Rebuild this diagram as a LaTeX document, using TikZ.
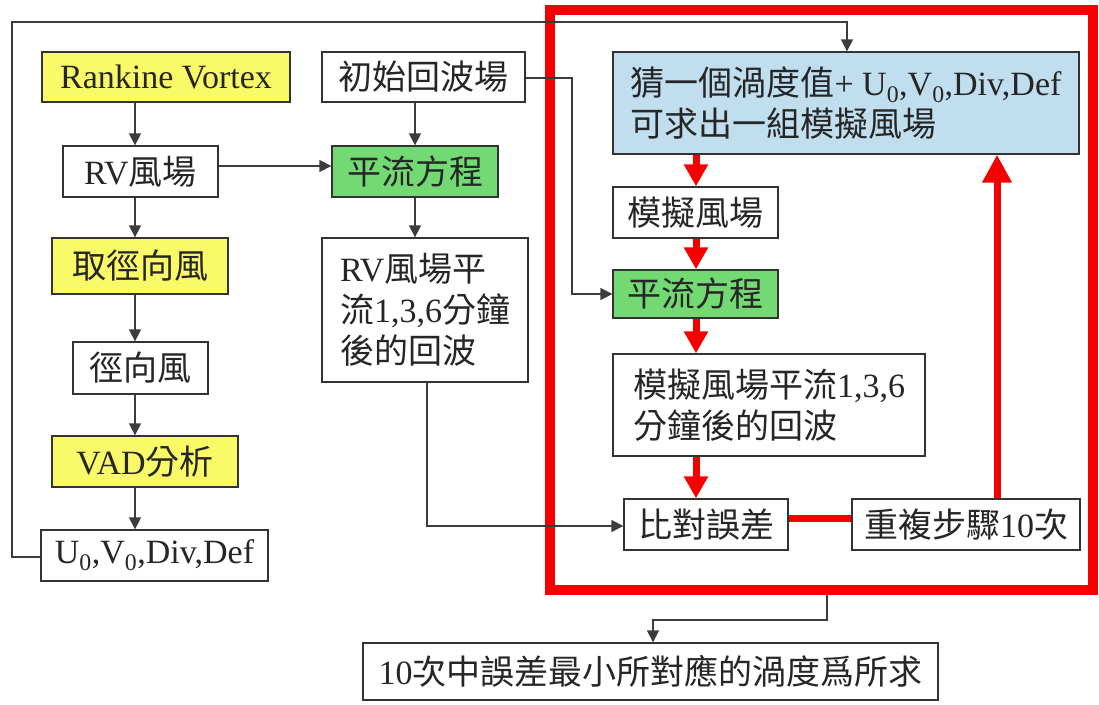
\documentclass[tikz,border=0pt]{standalone}
\usepackage{fontspec}
\setmainfont{Noto Sans CJK TC}
\newfontfamily\latf{Liberation Serif}
\newcommand{\tm}[1]{{\latf #1}}
\usetikzlibrary{arrows.meta}
\definecolor{boxyellow}{RGB}{250,250,105}
\definecolor{boxgreen}{RGB}{115,218,115}
\definecolor{boxblue}{RGB}{192,222,238}
\definecolor{lineg}{RGB}{60,60,60}
\definecolor{fred}{RGB}{245,0,0}
\begin{document}
\begin{tikzpicture}[x=1pt,y=-1pt,
  box/.style={draw=black!80, line width=1.3pt, inner sep=0pt, minimum width=#1,
    align=left, font=\fontsize{34}{41}\selectfont, text=black!85},
  conn/.style={draw=lineg, line width=1.3pt},
  arr/.style={conn, -{Triangle[length=12pt,width=12pt]}},
  rarr/.style={draw=fred, line width=7pt, -{Triangle[length=22pt,width=23pt]}},
  rline/.style={draw=fred, line width=7pt}
]
\useasboundingbox (0,0) rectangle (1099,704);
\fill[white] (0,0) rectangle (1099,704);

% left column
\node[box=248, minimum height=50, fill=boxyellow] (rv) at (166,77) {\tm{Rankine Vortex}};
\node[box=155, minimum height=51] (rvw) at (140.5,171.5) {\tm{RV}風場};
\node[box=176, minimum height=56, fill=boxyellow] (rad) at (140,266) {取徑向風};
\node[box=135, minimum height=52] (radw) at (140.5,368) {徑向風};
\node[box=186, minimum height=51, fill=boxyellow] (vad) at (145,461.5) {\tm{VAD}分析};
\node[box=227, minimum height=51] (u0) at (154.5,555.5) {\tm{U\textsubscript{0},V\textsubscript{0},Div,Def}};

% middle column
\node[box=203, minimum height=50] (init) at (423.5,77) {初始回波場};
\node[box=166, minimum height=51, fill=boxgreen] (adv1) at (415,171.5) {平流方程};
\node[box=206, minimum height=144] (rvadv) at (425,310) {\tm{RV}風場平\\流\tm{1,3,6}分鐘\\後的回波};

% red frame
\node[draw=fred, line width=10pt, minimum width=543, minimum height=580, inner sep=0pt] (frame) at (821.5,300) {};

% right column
\node[box=466, minimum height=102, fill=boxblue] (blue) at (846,103) {猜一個渦度值\tm{+ U\textsubscript{0},V\textsubscript{0},Div,Def}\\可求出一組模擬風場};
\node[box=165, minimum height=51] (sim) at (695.5,212.5) {模擬風場};
\node[box=165, minimum height=48, fill=boxgreen] (adv2) at (695.5,294) {平流方程};
\node[box=312, minimum height=102] (simadv) at (769,405) {模擬風場平流\tm{1,3,6}\\分鐘後的回波};
\node[box=164, minimum height=51] (cmp) at (706,524.5) {比對誤差};
\node[box=228, minimum height=51] (rep) at (966,524.5) {重複步驟\tm{10}次};

% final
\node[box=575, minimum height=57] (final) at (650.5,671.5) {\tm{10}次中誤差最小所對應的渦度爲所求};

% helper coordinates
\coordinate (lx) at (135,0);
\coordinate (mx) at (415,0);
\coordinate (my) at (0,166);
\coordinate (rx) at (696,0);
\coordinate (ry) at (0,518);
\coordinate (ux) at (997,0);
\coordinate (t1) at (572,78);
\coordinate (t2) at (572,294);
\coordinate (b1) at (427,526);
\coordinate (bx) at (427,0);
\coordinate (o1) at (12,557);
\coordinate (o2) at (12,22);
\coordinate (o3) at (847,22);
\coordinate (f1) at (827,620);
\coordinate (f2) at (653,620);
\coordinate (fx) at (827,0);

% left chain
\draw[arr] (rv.south -| lx) -- (rvw.north -| lx);
\draw[arr] (rvw.south -| lx) -- (rad.north -| lx);
\draw[arr] (rad.south -| lx) -- (radw.north -| lx);
\draw[arr] (radw.south -| lx) -- (vad.north -| lx);
\draw[arr] (vad.south -| lx) -- (u0.north -| lx);

% middle chain
\draw[arr] (init.south -| mx) -- (adv1.north -| mx);
\draw[arr] (adv1.south -| mx) -- (rvadv.north -| mx);
\draw[arr] (rvw.east |- my) -- (adv1.west |- my);

% cross connectors
\draw[arr] (init.east |- t1) -- (t1) -- (t2) -- (adv2.west |- t2);
\draw[arr] (rvadv.south -| bx) -- (b1) -- (cmp.west |- b1);
\draw[arr] (u0.west |- o1) -- (o1) -- (o2) -- (o3) -- (blue.north -| o3);
\draw[arr] (frame.south -| fx) -- (f1) -- (f2) -- (final.north -| f2);

% red loop
\draw[rarr] (blue.south -| rx) -- (sim.north -| rx);
\draw[rarr] (sim.south -| rx) -- (adv2.north -| rx);
\draw[rarr] (adv2.south -| rx) -- (simadv.north -| rx);
\draw[rarr] (simadv.south -| rx) -- (cmp.north -| rx);
\draw[rline] (cmp.east |- ry) -- (rep.west |- ry);
\draw[draw=fred, line width=7pt, -{Triangle[length=28pt,width=28pt]}] (rep.north -| ux) -- (blue.south -| ux);
\end{tikzpicture}
\end{document}
